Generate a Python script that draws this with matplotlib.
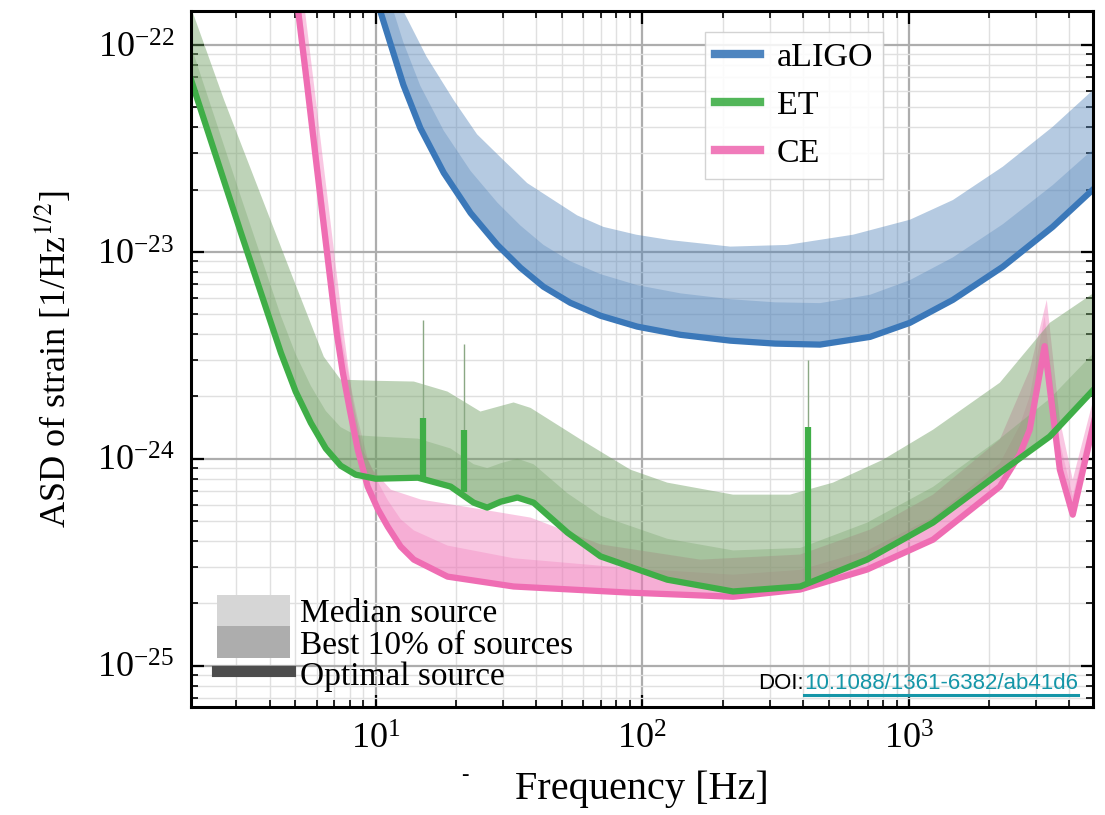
import numpy as np
import matplotlib
matplotlib.use('Agg')
import matplotlib.pyplot as plt
from matplotlib.lines import Line2D
from matplotlib.patches import Patch

plt.rcParams['font.family'] = 'serif'
plt.rcParams['font.serif'] = ['Liberation Serif', 'DejaVu Serif']
plt.rcParams['mathtext.fontset'] = 'stix'

# ---- aLIGO (Hz, strain/sqrt(Hz)) ----
ligo_opt_f = [9.5, 10.4, 11.4, 12.7, 14.7, 18.0, 22.7, 28.6, 34.9, 42.6, 53.7, 69.7, 95.7,
              139, 214, 315, 464, 715, 1009, 1462, 2250, 3460, 5000]
ligo_opt = [2.1e-22, 1.46e-22, 1.0e-22, 6.41e-23, 3.97e-23, 2.41e-23, 1.54e-23, 1.08e-23,
            8.38e-24, 6.78e-24, 5.67e-24, 4.91e-24, 4.35e-24, 3.97e-24, 3.72e-24, 3.6e-24,
            3.56e-24, 3.88e-24, 4.54e-24, 5.86e-24, 8.47e-24, 1.32e-23, 2.05e-23]
ligo_b10 = [3.4e-22, 2.3e-22, 1.6e-22, 1.03e-22, 6.35e-23, 3.85e-23, 2.46e-23, 1.73e-23,
            1.34e-23, 1.08e-23, 9.0e-24, 7.8e-24, 6.9e-24, 6.3e-24, 5.9e-24, 5.7e-24,
            5.65e-24, 6.2e-24, 7.3e-24, 9.4e-24, 1.36e-23, 2.1e-23, 3.2e-23]
ligo_med_f = [11.5, 12.7, 15.5, 19.6, 24, 30.1, 37, 46.4, 57, 71.5, 95, 127, 214, 349, 617,
              1009, 1462, 2250, 3460, 5000]
ligo_med = [2.0e-22, 1.46e-22, 8.8e-23, 5.42e-23, 3.7e-23, 2.78e-23, 2.15e-23, 1.78e-23,
            1.5e-23, 1.32e-23, 1.21e-23, 1.14e-23, 1.06e-23, 1.08e-23, 1.21e-23, 1.43e-23,
            1.78e-23, 2.58e-23, 4.02e-23, 6.2e-23]

# ---- ET ----
et_opt_f = [2.0, 3.12, 4.41, 5.01, 5.71, 6.50, 7.39, 8.41, 10.0, 14.4, 19.1, 23.3, 26.2,
            29.4, 34.0, 39.1, 52.4, 69.7, 124, 219, 391, 696, 1231, 2193, 3375, 5000]
et_opt = [7.2e-23, 1.24e-23, 3.25e-24, 2.11e-24, 1.49e-24, 1.12e-24, 9.25e-25, 8.37e-25,
          8.0e-25, 8.09e-25, 7.33e-25, 6.13e-25, 5.80e-25, 6.19e-25, 6.49e-25, 6.13e-25,
          4.39e-25, 3.37e-25, 2.60e-25, 2.28e-25, 2.41e-25, 3.25e-25, 4.91e-25, 8.55e-25,
          1.28e-24, 2.2e-24]
et_b10 = [1.05e-22, 1.85e-23, 4.9e-24, 3.2e-24, 2.25e-24, 1.7e-24, 1.42e-24, 1.3e-24,
          1.28e-24, 1.25e-24, 1.12e-24, 9.4e-25, 9.0e-25, 9.5e-25, 1.0e-24, 9.4e-25,
          6.8e-25, 5.3e-25, 4.1e-25, 3.6e-25, 3.7e-25, 4.9e-25, 7.3e-25, 1.25e-24,
          1.95e-24, 3.3e-24]
et_med_f = [2.0, 2.70, 3.61, 4.81, 6.39, 7.39, 10, 13.9, 18.6, 24.7, 28.6, 32.9, 38.1, 58.6,
            90.2, 124, 219, 358, 519, 800, 1231, 2193, 3375, 5000]
et_med = [1.6e-22, 5.42e-23, 2.06e-23, 7.92e-24, 3.11e-24, 2.41e-24, 2.38e-24, 2.36e-24,
          2.11e-24, 1.69e-24, 1.78e-24, 1.87e-24, 1.76e-24, 1.24e-24, 8.85e-25, 7.66e-25,
          6.70e-25, 6.70e-25, 7.66e-25, 9.89e-25, 1.38e-24, 2.33e-24, 4.54e-24, 6.4e-24]
# narrow lines in the ET noise
et_line_f = [15.1, 21.4, 419]
et_line_base = [8.1e-25, 6.9e-25, 2.45e-25]
et_line_opt_top = [1.58e-24, 1.38e-24, 1.43e-24]
et_line_med_top = [4.7e-24, 3.6e-24, 3.0e-24]

# ---- CE ----
ce_opt_f = [5.06, 5.52, 6.01, 6.55, 7.14, 7.52, 7.99, 8.57, 9.33, 10.2, 11.1, 12.4, 13.9,
            18.6, 32.9, 90.2, 219, 391, 696, 1231, 2193, 2606, 2838, 3228, 3681, 4115, 5000]
ce_opt = [1.65e-22, 6.55e-23, 2.58e-23, 1.02e-23, 4.06e-24, 2.63e-24, 1.73e-24, 1.10e-24,
          7.33e-25, 5.68e-25, 4.69e-25, 3.76e-25, 3.25e-25, 2.69e-25, 2.41e-25, 2.25e-25,
          2.15e-25, 2.33e-25, 2.91e-25, 4.06e-25, 7.33e-25, 1.05e-24, 1.38e-24, 3.5e-24,
          8.85e-25, 5.36e-25, 1.6e-24]
ce_b10 = [2.2e-22, 8.8e-23, 3.5e-23, 1.38e-23, 5.5e-24, 3.6e-24, 2.4e-24, 1.55e-24,
          1.0e-24, 7.7e-25, 6.3e-25, 5.1e-25, 4.5e-25, 3.8e-25, 3.3e-25, 2.95e-25,
          2.75e-25, 2.9e-25, 3.6e-25, 5.2e-25, 9.5e-25, 1.45e-24, 2.0e-24, 4.9e-24,
          1.2e-24, 6.6e-25, 1.85e-24]
ce_med_f = [5.37, 5.86, 6.39, 6.97, 7.59, 8.20, 8.94, 9.74, 11.4, 14.8, 22.7, 38.1, 69.8,
            165, 391, 715, 1231, 2193, 2838, 3289, 3681, 4115, 5000]
ce_med = [1.65e-22, 6.55e-23, 2.58e-23, 1.02e-23, 4.06e-24, 1.93e-24, 1.10e-24, 8.85e-25,
          7.08e-25, 6.34e-25, 5.80e-25, 5.19e-25, 3.85e-25, 3.25e-25, 3.44e-25, 4.54e-25,
          6.70e-25, 1.24e-24, 2.69e-24, 5.86e-24, 1.54e-24, 7.92e-25, 2.1e-24]

detectors = ['aLIGO', 'ET', 'CE']
colors = {'aLIGO': '#3b78b9', 'ET': '#3fae47', 'CE': '#ef6db3'}
fill_colors = {'aLIGO': '#4f82b8', 'ET': '#6f9f62', 'CE': '#f075b8'}

x_ticks = [10, 100, 1000]
y_ticks = [1e-25, 1e-24, 1e-23, 1e-22]


def band(ax, f1, a1, f2, a2, color, alpha):
    xs = np.concatenate([np.asarray(f1, float), np.asarray(f2, float)[::-1]])
    ys = np.concatenate([np.asarray(a1, float), np.asarray(a2, float)[::-1]])
    ax.fill(xs, ys, color=color, alpha=alpha, lw=0)


fig = plt.figure(figsize=(11.05, 8.15), dpi=100)
ax = fig.add_axes([0.1729, 0.1325, 0.8162, 0.854])

# aLIGO
band(ax, ligo_opt_f, ligo_opt, ligo_med_f, ligo_med, fill_colors['aLIGO'], 0.42)
band(ax, ligo_opt_f, ligo_opt, ligo_opt_f, ligo_b10, fill_colors['aLIGO'], 0.3)
ax.plot(ligo_opt_f, ligo_opt, color=colors['aLIGO'], lw=4.5)

# CE
band(ax, ce_opt_f, ce_opt, ce_med_f, ce_med, fill_colors['CE'], 0.4)
band(ax, ce_opt_f, ce_opt, ce_opt_f, ce_b10, fill_colors['CE'], 0.3)
ax.plot(ce_opt_f, ce_opt, color=colors['CE'], lw=4.5)

# ET
band(ax, et_opt_f, et_opt, et_med_f, et_med, fill_colors['ET'], 0.45)
band(ax, et_opt_f, et_opt, et_opt_f, et_b10, fill_colors['ET'], 0.3)
ax.vlines(et_line_f, et_line_base, et_line_med_top, color='#8aa884', lw=1.0)
ax.vlines(et_line_f, et_line_base, et_line_opt_top, color=colors['ET'], lw=4.5)
ax.plot(et_opt_f, et_opt, color=colors['ET'], lw=4.5)

ax.set_xscale('log')
ax.set_yscale('log')
ax.set_xlim(2.03, 4900)
ax.set_ylim(6.3e-26, 1.46e-22)
ax.set_xticks(x_ticks)
ax.set_yticks(y_ticks)
ax.yaxis.set_minor_formatter(plt.NullFormatter())
ax.xaxis.set_minor_formatter(plt.NullFormatter())

ax.grid(True, which='major', color='0.68', lw=1.6)
ax.grid(True, which='minor', color='0.88', lw=1.0)
ax.set_axisbelow(True)
ax.tick_params(which='both', direction='in', top=True, right=True, labelsize=26)
ax.tick_params(which='major', length=9, width=1.6, pad=12)
ax.tick_params(which='minor', length=5, width=1.2)
for s in ax.spines.values():
    s.set_linewidth(2.2)

ax.set_xlabel('Frequency [Hz]', fontsize=29, labelpad=10)
ax.set_ylabel('ASD of strain [1/Hz$^{1/2}$]', fontsize=26, labelpad=17)

# detector legend
det_handles = [Line2D([], [], color=colors[d], lw=6, alpha=0.9) for d in detectors]
leg1 = ax.legend(det_handles, detectors, loc='upper left', bbox_to_anchor=(0.570, 0.970),
                 borderaxespad=0, fontsize=24.5, handlelength=1.3, handletextpad=0.5,
                 framealpha=0.85, edgecolor='0.8', fancybox=False, borderpad=0.3)
ax.add_artist(leg1)

# source legend
src_labels = ['Median source', 'Best 10% of sources', 'Optimal source']
src_handles = [Patch(facecolor='0.84', edgecolor='none'),
               Patch(facecolor='0.68', edgecolor='none'),
               Line2D([], [], color='0.3', lw=8)]
ax.legend(src_handles, src_labels, loc='lower left', bbox_to_anchor=(0.021, 0.012),
          borderaxespad=0, fontsize=24, frameon=False, labelspacing=-0.09,
          handlelength=2.2, handleheight=1.1, handletextpad=0.3, borderpad=0.2)

# DOI note
link = fig.text(1078 / 1105, 1 - 689 / 815, '10.1088/1361-6382/ab41d6', color='#1596a8',
                fontsize=16, family='Liberation Sans', ha='right', va='baseline')
fig.canvas.draw()
bb = link.get_window_extent()
fig.text(bb.x0 / 1105, 1 - 689 / 815, 'DOI:', color='black', fontsize=16,
         family='Liberation Sans', ha='right', va='baseline')
uy = (bb.y0 - 1) / 815
fig.add_artist(Line2D([bb.x0 / 1105, bb.x1 / 1105], [uy, uy], color='#1596a8', lw=2.2))

fig.text(465 / 1105, 1 - 775 / 815, '-', fontsize=16, ha='center', va='center')

fig.savefig('out.png', dpi=100)
